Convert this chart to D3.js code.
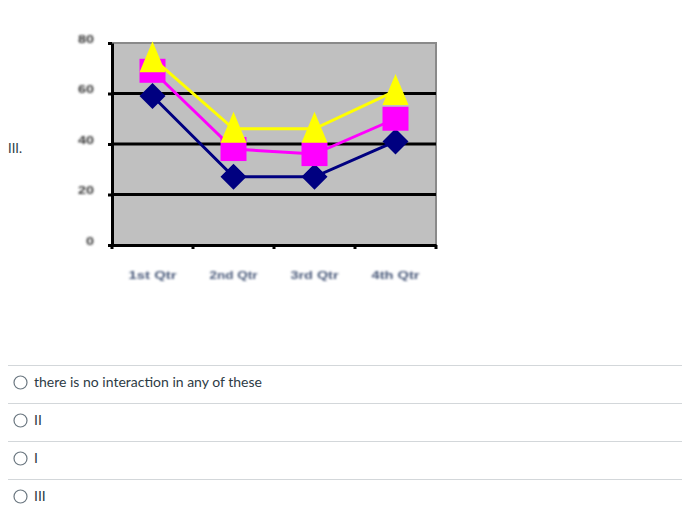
<!DOCTYPE html>
<html>
<head>
<meta charset="utf-8">
<script src="https://cdn.jsdelivr.net/npm/d3@7"></script>
<style>
  html, body { margin: 0; padding: 0; background: #fff; }
  svg { display: block; }
</style>
</head>
<body>
<div id="chart"></div>
<script>
const categories = ['1st Qtr', '2nd Qtr', '3rd Qtr', '4th Qtr'];
const blueValues = [59, 27, 27, 41];
const pinkValues = [69, 38, 36, 50];
const yellowValues = [74, 46, 46, 61];
const yTicks = [0, 20, 40, 60, 80];
const options = ['there is no interaction in any of these', 'II', 'I', 'III'];

const W = 682, H = 520;
const svg = d3.select('#chart').append('svg')
  .attr('width', W).attr('height', H);

const defs = svg.append('defs');
defs.append('filter').attr('id', 'soft')
  .append('feGaussianBlur').attr('stdDeviation', 0.45);
defs.append('filter').attr('id', 'fuzzy')
  .attr('x', '-20%').attr('width', '140%')
  .attr('y', '-40%').attr('height', '180%')
  .append('feGaussianBlur').attr('stdDeviation', 1);

// question label
svg.append('text')
  .attr('x', 8).attr('y', 153)
  .attr('font-family', 'Lato, sans-serif')
  .attr('font-size', 13)
  .attr('fill', '#2d3b45')
  .text('III.');

// chart
const x = d3.scaleBand().domain(categories).range([112, 436]);
const y = d3.scaleLinear().domain([0, 80]).range([245, 43]);
const g = svg.append('g').attr('filter', 'url(#soft)');

g.append('rect')
  .attr('x', x.range()[0]).attr('y', y(80))
  .attr('width', x.range()[1] - x.range()[0])
  .attr('height', y(0) - y(80))
  .attr('fill', '#c0c0c0')
  .attr('stroke', '#8a8a8a')
  .attr('stroke-width', 2);

// gridlines
g.selectAll('line.grid')
  .data(yTicks.filter(v => v > 0 && v < 80))
  .join('line')
  .attr('class', 'grid')
  .attr('x1', x.range()[0]).attr('x2', x.range()[1])
  .attr('y1', d => y(d)).attr('y2', d => y(d))
  .attr('stroke', '#000').attr('stroke-width', 3);

// y axis
const yAxis = g.append('g')
  .attr('transform', `translate(${x.range()[0]},0)`)
  .call(d3.axisLeft(y).tickValues(yTicks).tickSize(4).tickPadding(14).tickSizeOuter(0));
yAxis.select('.domain').attr('stroke', '#000').attr('stroke-width', 3);
yAxis.selectAll('.tick line').attr('stroke', '#000').attr('stroke-width', 3);
yAxis.selectAll('.tick text')
  .attr('y', -4)
  .attr('font-family', 'Arial, sans-serif')
  .attr('font-weight', 'bold')
  .attr('font-size', 10)
  .attr('textLength', d => String(d).length * 8)
  .attr('lengthAdjust', 'spacingAndGlyphs')
  .attr('fill', '#3a3a3a')
  .attr('filter', 'url(#fuzzy)');

// x axis
const xAxis = g.append('g')
  .attr('transform', `translate(0,${y(0)})`)
  .call(d3.axisBottom(x).tickSize(0).tickPadding(27).tickSizeOuter(0));
xAxis.select('.domain').attr('stroke', '#000').attr('stroke-width', 3);
xAxis.selectAll('.tick text')
  .attr('font-family', 'Arial, sans-serif')
  .attr('font-weight', 'bold')
  .attr('font-size', 10)
  .attr('textLength', 48)
  .attr('lengthAdjust', 'spacingAndGlyphs')
  .attr('fill', '#4a5a7a')
  .attr('filter', 'url(#fuzzy)');

const bounds = [x(categories[0])].concat(categories.map(c => x(c) + x.bandwidth()));
g.selectAll('line.xtick')
  .data(bounds)
  .join('line')
  .attr('class', 'xtick')
  .attr('x1', d => d).attr('x2', d => d)
  .attr('y1', y(0)).attr('y2', y(0) + 4)
  .attr('stroke', '#000').attr('stroke-width', 3);

// series
const cx = c => x(c) + x.bandwidth() / 2;
const series = [
  { values: blueValues, color: '#000080', shape: 'diamond' },
  { values: pinkValues, color: '#ff00ff', shape: 'square' },
  { values: yellowValues, color: '#ffff00', shape: 'triangle' }
];
const markerPath = {
  diamond: 'M0,-13L13,0L0,13L-13,0Z',
  square: 'M-13,-12H13V12H-13Z',
  triangle: 'M0,-17L13,14H-13Z'
};
const line = d3.line().x((d, i) => cx(categories[i])).y(d => y(d));

series.forEach(s => {
  g.append('path')
    .datum(s.values)
    .attr('d', line)
    .attr('fill', 'none')
    .attr('stroke', s.color)
    .attr('stroke-width', 3);
  g.selectAll(null)
    .data(s.values)
    .join('path')
    .attr('transform', (d, i) => `translate(${cx(categories[i])},${y(d)})`)
    .attr('d', markerPath[s.shape])
    .attr('fill', s.color);
});

// answer options
const rowTop = [365, 403, 441, 479];
const opt = svg.selectAll('g.opt')
  .data(options)
  .join('g')
  .attr('class', 'opt')
  .attr('transform', (d, i) => `translate(0,${rowTop[i]})`);
opt.append('line')
  .attr('x1', 8).attr('x2', W)
  .attr('y1', 0.5).attr('y2', 0.5)
  .attr('stroke', '#d3d7da').attr('stroke-width', 1);
opt.append('circle')
  .attr('cx', 20.5).attr('cy', 17.5).attr('r', 6.5)
  .attr('fill', '#fff').attr('stroke', '#6b7780').attr('stroke-width', 1.2);
opt.append('text')
  .attr('x', 34).attr('y', 22)
  .attr('font-family', 'Lato, sans-serif')
  .attr('font-size', 14)
  .attr('fill', '#2d3b45')
  .text(d => d);
</script>
</body>
</html>
